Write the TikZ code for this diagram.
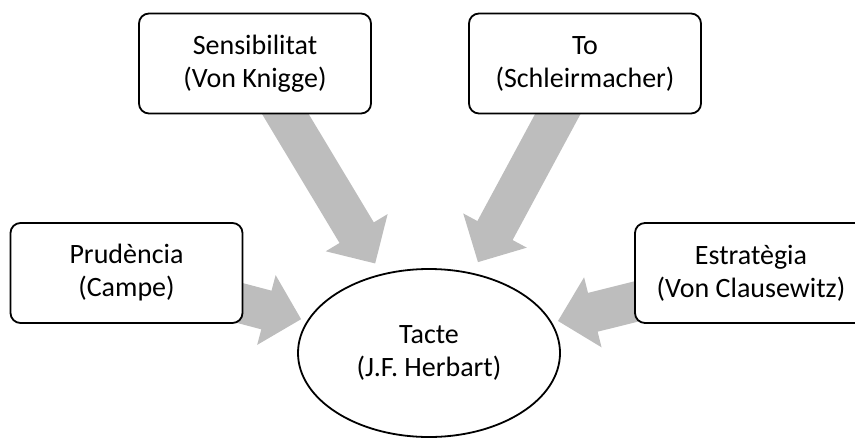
\documentclass[tikz,border=0pt]{standalone}
\usepackage{fontspec}
\setmainfont{Carlito}
\usetikzlibrary{shapes.geometric, arrows.meta, backgrounds}
\usepackage{xcolor}
\definecolor{arrowgray}{RGB}{189,189,189}
\tikzset{
  source/.style={inner sep=5pt, draw, rounded corners=5pt, line width=0.9pt, fill=white,
    align=center, minimum width=116pt, minimum height=50pt, font=\fontsize{14}{16.5}\selectfont},
  target/.style={ellipse, inner sep=0pt, draw, line width=0.9pt, fill=white,
    align=center, minimum width=131pt, minimum height=84pt, font=\fontsize{14}{16.5}\selectfont},
  fatarrow/.style={arrowgray, line width=20pt, -{Triangle[length=18pt,width=35pt]}, shorten <=-10pt}
}

\begin{document}
\begin{tikzpicture}[x=0.5pt, y=-0.5pt]
		\useasboundingbox (0,0) rectangle (855,439);
		\draw (255,63.5)  node[source] (sens) {Sensibilitat\\(Von Knigge)}
		(585,63.5)  node[source] (to) {To\\(Schleirmacher)}
		(126.5,273) node[source] (prud) {Prudència\\(Campe)}
		(751,273)   node[source] (estr) {Estratègia\\(Von Clausewitz)}
		(429,353)   node[target] (tacte) {Tacte\\(J.F. Herbart)};
		
		\begin{scope}[on background layer]
		\draw[fatarrow, shorten >=6pt] (sens) -- (tacte);
		\draw[fatarrow, shorten >=6pt] (to) -- (tacte);
		\draw[fatarrow, shorten >=3pt] (prud) -- (tacte);
		\draw[fatarrow, shorten >=3pt] (estr) -- (tacte);
		\end{scope}
	\end{tikzpicture}
\end{document}
